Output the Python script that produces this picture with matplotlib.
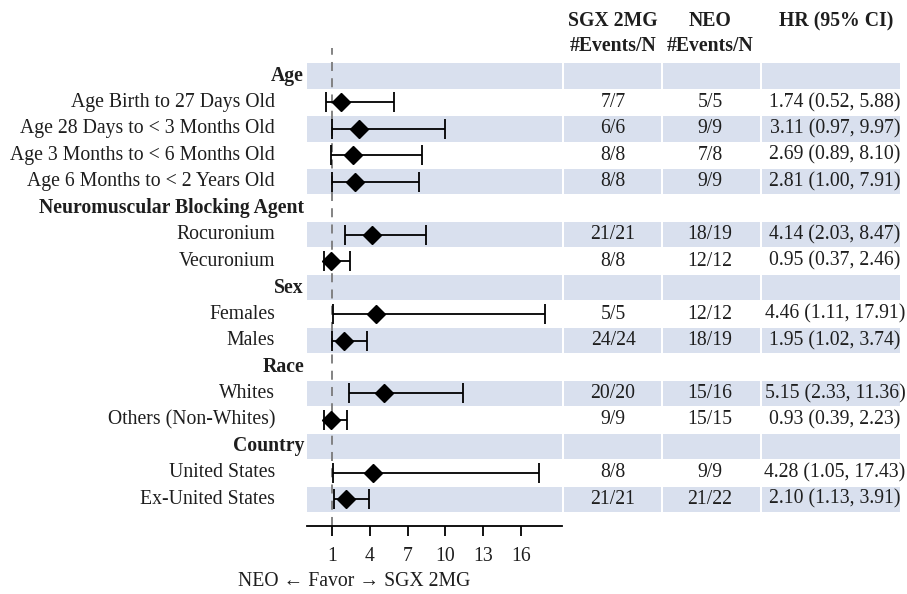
import numpy as np
import matplotlib
matplotlib.use("Agg")
import matplotlib.pyplot as plt
from matplotlib.transforms import blended_transform_factory

# ---------------- data ----------------
row_labels = [
    "Age",
    "Age Birth to 27 Days Old",
    "Age 28 Days to < 3 Months Old",
    "Age 3 Months to < 6 Months Old",
    "Age 6 Months to < 2 Years Old",
    "Neuromuscular Blocking Agent",
    "Rocuronium",
    "Vecuronium",
    "Sex",
    "Females",
    "Males",
    "Race",
    "Whites",
    "Others (Non-Whites)",
    "Country",
    "United States",
    "Ex-United States",
]
is_header = [True, False, False, False, False, True, False, False, True,
             False, False, True, False, False, True, False, False]
sgx_events = ["", "7/7", "6/6", "8/8", "8/8", "", "21/21", "8/8", "",
              "5/5", "24/24", "", "20/20", "9/9", "", "8/8", "21/21"]
neo_events = ["", "5/5", "9/9", "7/8", "9/9", "", "18/19", "12/12", "",
              "12/12", "18/19", "", "15/16", "15/15", "", "9/9", "21/22"]
hr = [1.74, 3.11, 2.69, 2.81, 4.14, 0.95, 4.46, 1.95, 5.15, 0.93, 4.28, 2.10]
ci_lo = [0.52, 0.97, 0.89, 1.00, 2.03, 0.37, 1.11, 1.02, 2.33, 0.39, 1.05, 1.13]
ci_hi = [5.88, 9.97, 8.10, 7.91, 8.47, 2.46, 17.91, 3.74, 11.36, 2.23, 17.43, 3.91]
x_ticks = [1, 4, 7, 10, 13, 16]
col_headers = [("SGX 2MG", "#Events/N"), ("NEO", "#Events/N"), ("HR (95% CI)", "")]
axis_caption = "NEO \u2190 Favor \u2192 SGX 2MG"

# ---------------- style ----------------
FONT = "Liberation Serif"
plt.rcParams["font.family"] = [FONT, "DejaVu Serif"]
TXT = "#1e1e1e"
BAND = "#d9e0ee"
FS = 14.2

W, H = 907, 594
fig = plt.figure(figsize=(W / 100, H / 100), dpi=100)


def fx(px):
    return px / W


def fy(py):
    return 1 - py / H


top_px, bot_px = 48, 526
row0_px, pitch = 76, 26.45
ylim = (-(bot_px - row0_px) / pitch, (row0_px - top_px) / pitch)

ax = fig.add_axes([fx(307), fy(bot_px), fx(562) - fx(307), fy(top_px) - fy(bot_px)])
ax2 = fig.add_axes([fx(564), fy(bot_px), fx(900) - fx(564), fy(top_px) - fy(bot_px)])

n = len(row_labels)
ys = -np.arange(n)

# bands
for i in range(0, n, 2):
    ax.axhspan(ys[i] - 0.48, ys[i] + 0.48, color=BAND, lw=0, zorder=0)
    for a, b in [(564, 661), (663, 760), (762, 900)]:
        ax2.axhspan(ys[i] - 0.48, ys[i] + 0.48, xmin=(a - 564) / 336, xmax=(b - 564) / 336,
                    color=BAND, lw=0, zorder=0)

# forest plot
sub_y = np.array([ys[i] for i in range(n) if not is_header[i]])
hr_a = np.array(hr)
lo_a = np.array(ci_lo)
hi_a = np.array(ci_hi)
ax.axvline(1, color="#7a7a7a", lw=1.3, ls=(0, (5, 4)), zorder=1)
ax.errorbar(hr_a, sub_y, xerr=[hr_a - lo_a, hi_a - hr_a], fmt="D", color="black",
            ms=9, capsize=7, elinewidth=1.3, capthick=1.3, zorder=3)

ax.set_xlim(-0.98, 19.24)
ax.set_ylim(*ylim)
ax.set_xticks(x_ticks)
ax.set_xticklabels([str(t) for t in x_ticks], fontsize=FS, color=TXT, family=FONT)
ax.set_yticks([])
for s in ["top", "right", "left"]:
    ax.spines[s].set_visible(False)
ax.spines["bottom"].set_linewidth(1.3)
ax.tick_params(axis="x", length=7, width=1.3, pad=8, direction="out")
ax.patch.set_alpha(0)

ax2.set_xlim(564, 900)
ax2.set_ylim(*ylim)
ax2.axis("off")

# left labels
tr = blended_transform_factory(fig.transFigure, ax.transData)
for i in range(n):
    if is_header[i]:
        ax.text(fx(304), ys[i], row_labels[i], transform=tr, ha="right", va="center",
                fontsize=FS, fontweight="bold", color=TXT)
    else:
        ax.text(fx(275), ys[i], row_labels[i], transform=tr, ha="right", va="center",
                fontsize=FS, color=TXT)

# table columns
k = 0
for i in range(n):
    if is_header[i]:
        continue
    ax2.text(613, ys[i], sgx_events[i], ha="center", va="center", fontsize=FS, color=TXT)
    ax2.text(710, ys[i], neo_events[i], ha="center", va="center", fontsize=FS, color=TXT)
    ax2.text(835, ys[i], f"{hr[k]:.2f} ({ci_lo[k]:.2f}, {ci_hi[k]:.2f})",
             ha="center", va="center", fontsize=FS, color=TXT)
    k += 1

for cx, (l1, l2) in zip([613, 710, 836], col_headers):
    fig.text(fx(cx), fy(21), l1, ha="center", va="center", fontsize=FS,
             fontweight="bold", color=TXT)
    if l2:
        fig.text(fx(cx), fy(46), l2, ha="center", va="center", fontsize=FS,
                 fontweight="bold", color=TXT)

fig.text(fx(354), fy(582), axis_caption, ha="center", va="center", fontsize=FS,
         color=TXT, family=[FONT, "DejaVu Sans"])

fig.savefig("out.png", dpi=100)
